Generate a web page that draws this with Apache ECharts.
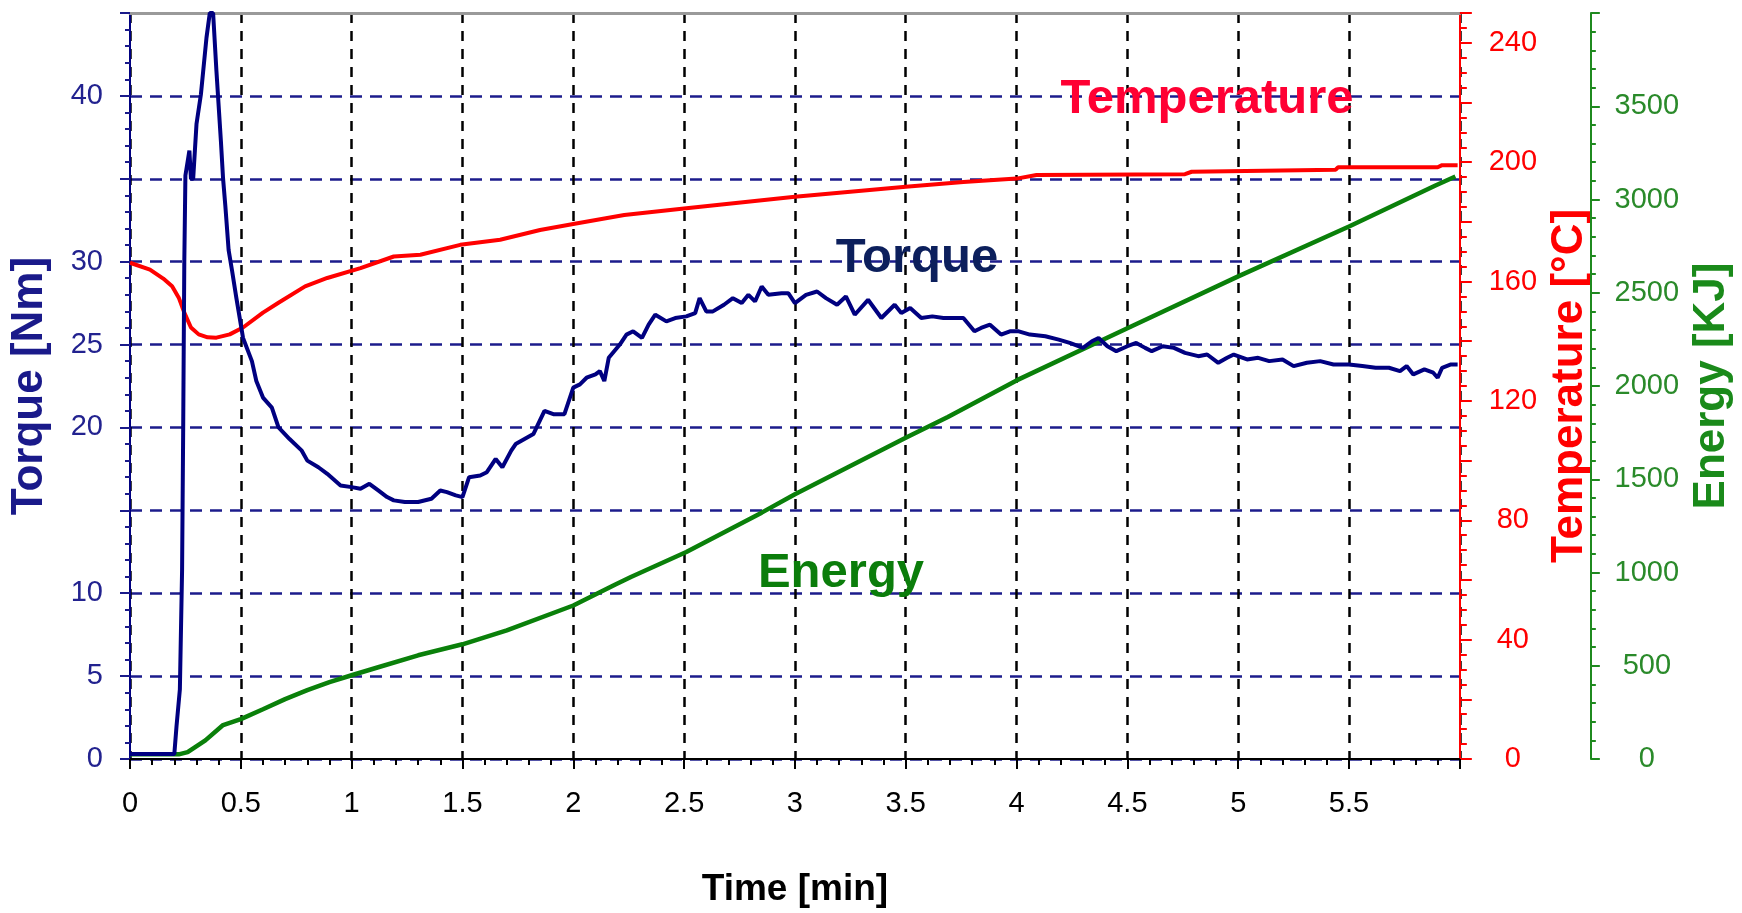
<!DOCTYPE html>
<html>
<head>
    <meta charset="utf-8">
    <title>Torque / Temperature / Energy</title>
    <script src="https://cdn.jsdelivr.net/npm/echarts@6/dist/echarts.min.js"></script>
    <style>
        html, body { margin: 0; padding: 0; background: #fff; }
    </style>
</head>
<body>
    <div id="main" style="width: 1742px;height:913px;"></div>
    <script type="text/javascript">
        // values (time in min)
        var torqueTime = [0, 0.20, 0.21, 0.225, 0.235, 0.24, 0.245, 0.25, 0.268, 0.275, 0.285, 0.30, 0.32, 0.345, 0.36, 0.375,
            0.39, 0.41, 0.42, 0.43, 0.445, 0.46, 0.48, 0.51, 0.55, 0.57, 0.60, 0.64, 0.67, 0.72, 0.775, 0.80, 0.85, 0.89, 0.95,
            1.0, 1.04, 1.08, 1.12, 1.16, 1.19, 1.24, 1.30, 1.36, 1.40, 1.43, 1.47, 1.50, 1.53, 1.58, 1.61, 1.65, 1.68, 1.72,
            1.74, 1.78, 1.82, 1.87, 1.91, 1.96, 2.0, 2.03, 2.06, 2.10, 2.12, 2.14, 2.16, 2.21, 2.24, 2.27, 2.31, 2.34, 2.37,
            2.42, 2.46, 2.51, 2.55, 2.57, 2.60, 2.63, 2.68, 2.72, 2.76, 2.79, 2.82, 2.85, 2.88, 2.94, 2.97, 3.0, 3.05, 3.1,
            3.14, 3.19, 3.23, 3.27, 3.33, 3.39, 3.45, 3.48, 3.52, 3.57, 3.62, 3.67, 3.72, 3.76, 3.81, 3.84, 3.88, 3.93, 3.97,
            4.01, 4.06, 4.13, 4.19, 4.24, 4.30, 4.34, 4.37, 4.41, 4.45, 4.50, 4.54, 4.58, 4.61, 4.66, 4.71, 4.76, 4.82, 4.86,
            4.91, 4.95, 4.98, 5.04, 5.09, 5.14, 5.20, 5.25, 5.31, 5.37, 5.43, 5.50, 5.56, 5.62, 5.68, 5.73, 5.76, 5.79, 5.84,
            5.88, 5.90, 5.92, 5.96, 5.99];
        var torqueVal = [0.3, 0.3, 2, 4.2, 11.4, 20, 30, 35.2, 36.7, 35.0, 35.0, 38.3, 40.1, 43.5, 45, 45,
            41.5, 37.3, 35, 33.4, 30.7, 29.5, 27.8, 25.4, 24.0, 22.8, 21.8, 21.2, 20.0, 19.3, 18.6, 18.0, 17.6, 17.2, 16.5,
            16.4, 16.3, 16.6, 16.2, 15.8, 15.6, 15.5, 15.5, 15.7, 16.2, 16.1, 15.9, 15.8, 17.0, 17.1, 17.3, 18.1, 17.6, 18.6,
            19.0, 19.3, 19.6, 21.0, 20.8, 20.8, 22.4, 22.6, 23.0, 23.2, 23.4, 22.8, 24.2, 25.0, 25.6, 25.8, 25.4, 26.2, 26.8,
            26.4, 26.6, 26.7, 26.9, 27.8, 27.0, 27.0, 27.4, 27.8, 27.5, 28.0, 27.6, 28.5, 28.0, 28.1, 28.1, 27.5, 28.0, 28.2,
            27.8, 27.4, 27.9, 26.8, 27.7, 26.6, 27.4, 26.9, 27.2, 26.6, 26.7, 26.6, 26.6, 26.6, 25.8, 26.0, 26.2, 25.6, 25.8,
            25.8, 25.6, 25.5, 25.3, 25.1, 24.8, 25.2, 25.4, 24.9, 24.6, 24.9, 25.1, 24.8, 24.6, 24.9, 24.8, 24.5, 24.3, 24.4,
            23.9, 24.2, 24.4, 24.1, 24.2, 24.0, 24.1, 23.7, 23.9, 24.0, 23.8, 23.8, 23.7, 23.6, 23.6, 23.4, 23.7, 23.2, 23.5,
            23.3, 23.0, 23.6, 23.8, 23.8];

        var tempTime = [0, 0.09, 0.15, 0.19, 0.22, 0.245, 0.275, 0.31, 0.35, 0.39, 0.45, 0.51, 0.6, 0.67, 0.79, 0.89, 1.04,
            1.19, 1.31, 1.49, 1.67, 1.85, 2.0, 2.23, 2.51, 3.0, 3.5, 3.76, 4.0, 4.09, 4.76, 4.79, 5.44, 5.45, 5.90, 5.92, 5.99];
        var tempVal = [166.3, 164, 161, 158.4, 154.6, 149.6, 144.6, 142.3, 141.3, 141.2, 142.3, 144.6, 149.6, 152.9, 158.4,
            161.2, 164.5, 168.4, 169, 172.3, 174, 177.3, 179.3, 182.3, 184.6, 188.4, 191.8, 193.4, 194.5, 195.7, 196, 196.8,
            197.5, 198.3, 198.3, 199, 199];

        var energyTime = [0, 0.22, 0.26, 0.34, 0.42, 0.5, 0.6, 0.7, 0.8, 0.9, 1.0, 1.12, 1.3, 1.5, 1.7, 2.0, 2.19, 2.26,
            2.51, 2.85, 3.0, 3.5, 3.69, 4.0, 4.5, 5.0, 5.5, 5.89, 5.98];
        var energyVal = [25, 25, 37, 100, 182, 214, 267, 321, 369, 412, 449, 492, 556, 615, 690, 823, 936, 976,
            1110, 1321, 1420, 1722, 1834, 2030, 2310, 2588, 2855, 3075, 3123];

        function pairs(xs, ys) {
            var out = [];
            for (var i = 0; i < xs.length; i++) {
                out.push([xs[i], ys[i]]);
            }
            return out;
        }

        var myChart = echarts.init(document.getElementById('main'));

        var tickFont = '"Liberation Sans", Arial, sans-serif';
        var titleFont = '"Liberation Sans", Arial, sans-serif';

        var option = {
            animation: false,
            grid: { left: 125, right: 274, top: 13, bottom: 151, containLabel: false },
            xAxis: [{
                type: 'value',
                min: 0,
                max: 6,
                interval: 0.5,
                name: 'Time [min]',
                nameLocation: 'middle',
                nameGap: 112,
                nameTextStyle: { fontFamily: titleFont, fontWeight: 'bold', fontSize: 37, color: '#000' },
                axisLine: { onZero: false, lineStyle: { color: '#000', width: 2 } },
                axisTick: { length: 10, lineStyle: { color: '#000', width: 2 } },
                minorTick: { show: true, splitNumber: 5, length: 6, lineStyle: { color: '#000', width: 2 } },
                axisLabel: {
                    margin: 30, fontFamily: tickFont, fontSize: 29, color: '#000',
                    formatter: function (v) { return v === 6 ? '' : String(v); }
                },
                splitLine: { show: true, lineStyle: { color: '#000', width: 2.5, type: [10, 8] } }
            }, {
                type: 'value',
                position: 'top',
                min: 0,
                max: 6,
                axisLine: { show: true, onZero: false, lineStyle: { color: '#9a9a9a', width: 3 } },
                axisTick: { show: false },
                axisLabel: { show: false },
                splitLine: { show: false }
            }],
            yAxis: [{
                type: 'value',
                position: 'left',
                min: 0,
                max: 45,
                interval: 5,
                name: 'Torque [Nm]',
                nameLocation: 'middle',
                nameRotate: 90,
                nameGap: 78,
                nameTextStyle: { fontFamily: titleFont, fontWeight: 'bold', fontSize: 44, color: '#1a1a8a' },
                axisLine: { show: true, onZero: false, lineStyle: { color: '#000080', width: 2 } },
                axisTick: { show: true, length: 10, lineStyle: { color: '#1a1a8a', width: 2 } },
                minorTick: { show: true, splitNumber: 5, length: 5, lineStyle: { color: '#1a1a8a', width: 2 } },
                axisLabel: {
                    margin: 27, fontFamily: tickFont, fontSize: 29, color: '#22228f',
                    formatter: function (v) { return (v === 15 || v === 35 || v === 45) ? '' : String(v); }
                },
                splitLine: { show: true, lineStyle: { color: '#1c1c8c', width: 2.5, type: [12, 8] } }
            }, {
                type: 'value',
                position: 'right',
                min: 0,
                max: 250,
                interval: 20,
                name: 'Temperature [°C]',
                nameLocation: 'middle',
                nameRotate: 90,
                nameGap: 84,
                nameTextStyle: { fontFamily: titleFont, fontWeight: 'bold', fontSize: 44, color: '#ff0000' },
                axisLine: { show: true, onZero: false, lineStyle: { color: '#ff0000', width: 2 } },
                axisTick: { show: true, length: 12, lineStyle: { color: '#ff0000', width: 2 } },
                minorTick: { show: true, splitNumber: 4, length: 7, lineStyle: { color: '#ff0000', width: 2 } },
                axisLabel: {
                    margin: 53, align: 'center', fontFamily: tickFont, fontSize: 29, color: '#ff0000',
                    formatter: function (v) { return v % 40 === 0 ? String(v) : ''; }
                },
                splitLine: { show: false }
            }, {
                type: 'value',
                position: 'right',
                offset: 131,
                min: 0,
                max: 4000,
                interval: 500,
                name: 'Energy [KJ]',
                nameLocation: 'middle',
                nameRotate: 90,
                nameGap: 98,
                nameTextStyle: { fontFamily: titleFont, fontWeight: 'bold', fontSize: 44, color: '#1a8a1a' },
                axisLine: { show: true, onZero: false, lineStyle: { color: '#1f8a1f', width: 2 } },
                axisTick: { show: true, length: 9, lineStyle: { color: '#1f8a1f', width: 2 } },
                minorTick: { show: true, splitNumber: 5, length: 5, lineStyle: { color: '#1f8a1f', width: 2 } },
                axisLabel: {
                    margin: 56, align: 'center', fontFamily: tickFont, fontSize: 29, color: '#2a8a2a',
                    formatter: function (v) { return v === 4000 ? '' : String(v); }
                },
                splitLine: { show: false }
            }],
            series: [{
                name: 'Energy',
                type: 'line',
                yAxisIndex: 2,
                showSymbol: false,
                lineStyle: { color: '#0a800a', width: 4.5 },
                data: pairs(energyTime, energyVal)
            }, {
                name: 'Temperature',
                type: 'line',
                yAxisIndex: 1,
                showSymbol: false,
                lineStyle: { color: '#ff0000', width: 4 },
                data: pairs(tempTime, tempVal)
            }, {
                name: 'Torque',
                type: 'line',
                yAxisIndex: 0,
                showSymbol: false,
                lineStyle: { color: '#000080', width: 4 },
                data: pairs(torqueTime, torqueVal)
            }],
            graphic: [{
                type: 'text', x: 1207, y: 99, z: 100,
                style: { text: 'Temperature', fill: '#ff0033', font: 'bold 49px ' + titleFont, align: 'center', verticalAlign: 'middle' }
            }, {
                type: 'text', x: 917, y: 258, z: 100,
                style: { text: 'Torque', fill: '#0c1f5c', font: 'bold 49px ' + titleFont, align: 'center', verticalAlign: 'middle' }
            }, {
                type: 'text', x: 841, y: 573, z: 100,
                style: { text: 'Energy', fill: '#0b7d0b', font: 'bold 49px ' + titleFont, align: 'center', verticalAlign: 'middle' }
            }]
        };

        myChart.setOption(option);
    </script>
</body>
</html>
